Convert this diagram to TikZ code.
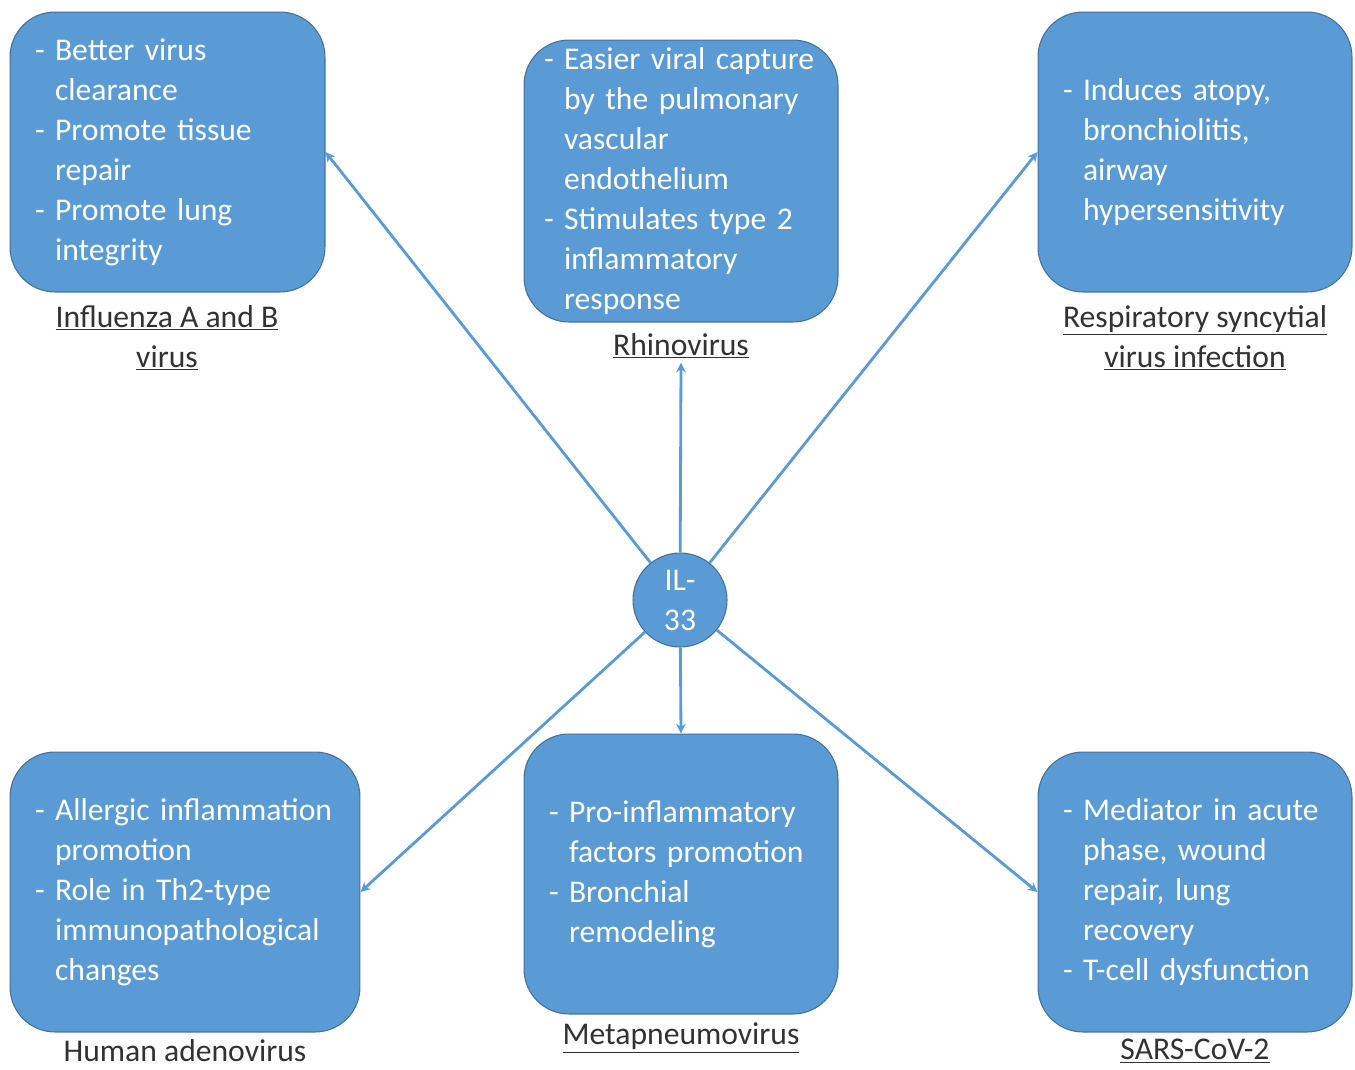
\documentclass[tikz,border=0pt]{standalone}
\usepackage{fontspec}
\setmainfont{Carlito}
\usepackage{tikz}
\usetikzlibrary{arrows.meta,positioning}
\definecolor{boxfill}{RGB}{91,155,213}
\definecolor{boxline}{RGB}{65,113,156}
\definecolor{lbltext}{RGB}{50,50,50}
\newcommand{\itm}{\makebox[0.4cm][l]{-}}
\newcommand{\cnt}{\hspace*{0.4cm}}

\begin{document}
\begin{tikzpicture}[x=0.02cm, y=-0.02cm,
  font=\fontsize{18}{22.76}\selectfont, >={Stealth[length=5.5pt,width=5.5pt]},
  effect/.style={draw=boxline, line width=0.6pt, fill=boxfill, text=white, rounded corners=0.9cm,
    align=left, inner sep=0pt, minimum height=5.6cm},
  hub/.style={circle, draw=boxline, line width=0.6pt, fill=boxfill, text=white, align=center,
    minimum size=1.88cm, inner sep=0pt},
  virus/.style={text=lbltext, align=center, inner sep=2pt},
  arr/.style={->, draw=boxfill, line width=1.6pt}]
  \useasboundingbox (0,0) rectangle (1355,1069);
  % effect boxes
  \node[effect, minimum width=6.3cm, text width=5.3cm] (infl) at (167.5,152)
    {\itm Better virus\\\cnt clearance\\\itm Promote tissue\\\cnt repair\\\itm Promote lung\\\cnt integrity};
  \node[effect, minimum width=6.28cm, minimum height=5.64cm, text width=5.48cm] (rhino) at (681,181)
    {\itm Easier viral capture\\\cnt by the pulmonary\\\cnt vascular\\\cnt endothelium\\\itm Stimulates type 2\\\cnt inflammatory\\\cnt response};
  \node[effect, minimum width=6.28cm, text width=5.28cm] (rsv) at (1195,152)
    {\itm Induces atopy,\\\cnt bronchiolitis,\\\cnt airway\\\cnt hypersensitivity};
  \node[effect, minimum width=7cm, text width=6.0cm] (adeno) at (185,892)
    {\itm Allergic inflammation\\\cnt promotion\\\itm Role in Th2-type\\\cnt immunopathological\\\cnt changes};
  \node[effect, minimum width=6.28cm, text width=5.28cm] (meta) at (681,874)
    {\itm Pro-inflammatory\\\cnt factors promotion\\\itm Bronchial\\\cnt remodeling};
  \node[effect, minimum width=6.28cm, text width=5.28cm] (sars) at (1195,892)
    {\itm Mediator in acute\\\cnt phase, wound\\\cnt repair, lung\\\cnt recovery\\\itm T-cell dysfunction};
  % virus names
  \node[virus] (infllbl) at (167,338) {\underline{Influenza A and B}\\\underline{virus}};
  \node[virus] (rhinolbl) at (681,346) {\underline{Rhinovirus}};
  \node[virus] (rsvlbl) at (1195,338) {\underline{Respiratory syncytial}\\\underline{virus infection}};
  \node[virus] (adenolbl) at (185,1051) {Human adenovirus};
  \node[virus] (metalbl) at (681,1038) {\underline{Metapneumovirus}};
  \node[virus] (sarslbl) at (1195,1051) {\underline{SARS-CoV-2}};
  % hub
  \node[hub] (il) at (680,600) {IL-\\33};
  \draw[arr] (il) -- (infl.east);
  \draw[arr] (il) -- (rhinolbl.south);
  \draw[arr] (il) -- (rsv.west);
  \draw[arr] (il) -- (adeno.east);
  \draw[arr] (il) -- (meta.north);
  \draw[arr] (il) -- (sars.west);
\end{tikzpicture}
\end{document}
